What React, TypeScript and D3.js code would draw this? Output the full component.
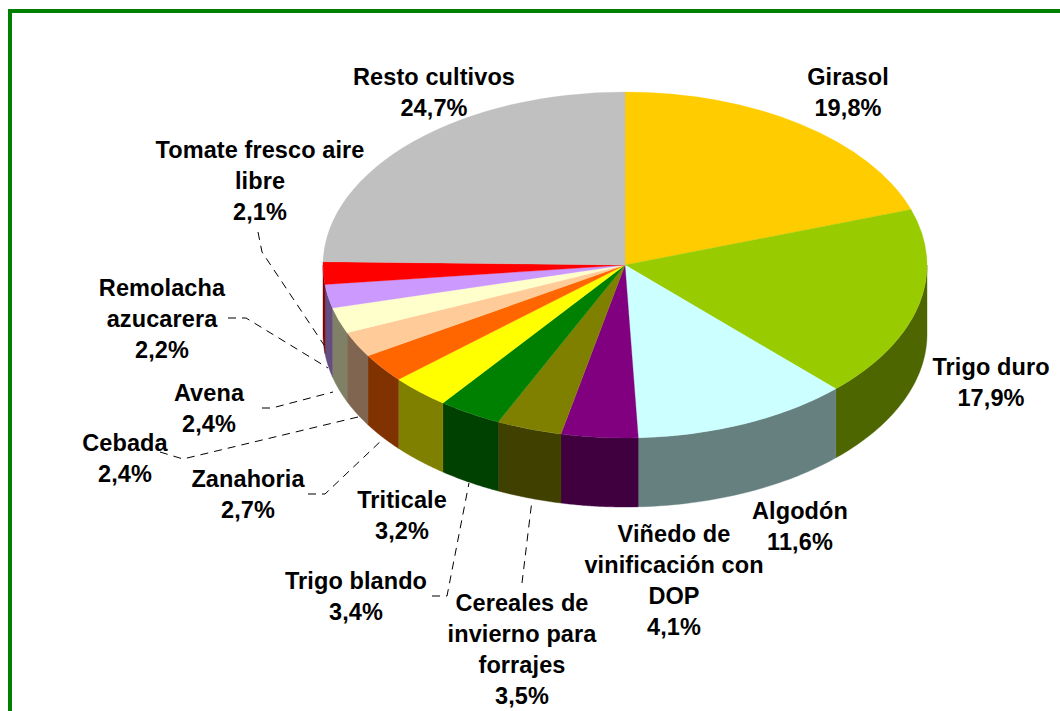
import React from 'react';
import * as d3 from 'd3';

const categories = [
  ['Girasol'],
  ['Trigo duro'],
  ['Algodón'],
  ['Viñedo de', 'vinificación con', 'DOP'],
  ['Cereales de', 'invierno para', 'forrajes'],
  ['Trigo blando'],
  ['Triticale'],
  ['Zanahoria'],
  ['Cebada'],
  ['Avena'],
  ['Remolacha', 'azucarera'],
  ['Tomate fresco aire', 'libre'],
  ['Resto cultivos'],
];
const values = [19.8, 17.9, 11.6, 4.1, 3.5, 3.4, 3.2, 2.7, 2.4, 2.4, 2.2, 2.1, 24.7];
const topColors = ['#ffcc00', '#99cc00', '#ccffff', '#800080', '#808000', '#008000', '#ffff00', '#ff6600', '#ffcc99', '#ffffcc', '#cc99ff', '#ff0000', '#c0c0c0'];
const wallColors = ['#806600', '#4d6600', '#668080', '#400040', '#404000', '#004000', '#808000', '#803300', '#806650', '#808066', '#664d80', '#800000', '#606060'];

// label centre x and first baseline y, same order as categories
const labelX = [848, 991, 800, 674, 522, 356, 402, 248, 125, 209, 162, 260, 434];
const labelY = [85, 375, 519, 542, 611, 589, 508, 487, 451, 401, 296, 158, 85];

// leader lines, hand placed
const leaders = [
  [[258, 232], [262, 252], [324, 345]],
  [[228, 318], [246, 318], [328, 368]],
  [[262, 408], [272, 408], [333, 392]],
  [[160, 452], [183, 459], [358, 417]],
  [[308, 494], [325, 494], [383, 439]],
  [[432, 596], [447, 596], [469, 483]],
  [[522, 583], [532, 500]],
];

const cx = 625;
const cy = 265;
const rx = 302;
const ry = 173;
const depth = 69;
const lineGap = 31;

const slices = d3.pie<number>().sort(null)(values);
const arc = d3.arc<d3.PieArcDatum<number>>().innerRadius(0).outerRadius(rx);
const line = d3.line();
const dashLine = d3.line();

// outer wall of a slice, only the part facing the viewer
function wallPath(start: number, end: number) {
  const a0 = Math.max(start, Math.PI / 2);
  const a1 = Math.min(end, (3 * Math.PI) / 2);
  if (a1 <= a0) return null;
  const steps = d3.range(0, 41).map((i) => a0 + ((a1 - a0) * i) / 40);
  const topEdge = steps.map((a) => [cx + rx * Math.sin(a), cy - ry * Math.cos(a)] as [number, number]);
  const bottomEdge = topEdge.map(([x, y]) => [x, y + depth] as [number, number]).reverse();
  return line([...topEdge, ...bottomEdge]) + 'Z';
}

export default function App() {
  return (
    <svg
      width={1060}
      height={711}
      style={{ position: 'absolute', left: 0, top: 0, display: 'block', background: '#fff' }}
    >
      <rect x={10} y={11} width={1100} height={760} fill="#fff" stroke="#008000" strokeWidth={4} />

      {slices.map((s, i) => {
        const d = wallPath(s.startAngle, s.endAngle);
        return d ? <path key={i} d={d} fill={wallColors[i]} stroke={wallColors[i]} strokeWidth={0.4} /> : null;
      })}

      <g transform={`translate(${cx},${cy}) scale(1,${ry / rx})`}>
        {slices.map((s, i) => (
          <path key={i} d={arc(s) as string} fill={topColors[i]} stroke={topColors[i]} strokeWidth={0.4} />
        ))}
      </g>

      {leaders.map((pts, i) => (
        <path
          key={i}
          d={dashLine(pts as [number, number][]) as string}
          fill="none"
          stroke="#000"
          strokeWidth={1}
          strokeDasharray="8 6"
        />
      ))}

      <g fontFamily="'Liberation Sans', Arial, sans-serif" fontWeight="bold" fontSize={23.5} letterSpacing={0.1} textAnchor="middle" fill="#000">
        {categories.map((lines, i) => (
          <text key={i}>
            {[...lines, values[i].toFixed(1).replace('.', ',') + '%'].map((t, j) => (
              <tspan key={j} x={labelX[i]} y={labelY[i] + j * lineGap}>
                {t}
              </tspan>
            ))}
          </text>
        ))}
      </g>
    </svg>
  );
}
